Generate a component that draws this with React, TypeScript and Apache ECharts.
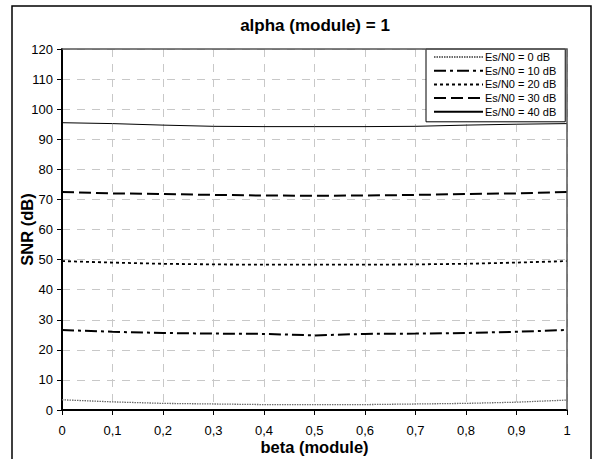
import React, { useEffect, useRef } from "react";
import * as echarts from "echarts";

const betaValues = [0, 0.1, 0.2, 0.3, 0.4, 0.5, 0.6, 0.7, 0.8, 0.9, 1];
const seriesNames = ["Es/N0 = 0 dB", "Es/N0 = 10 dB", "Es/N0 = 20 dB", "Es/N0 = 30 dB", "Es/N0 = 40 dB"];
const snr0 = [3.4, 2.7, 2.2, 2.0, 1.8, 1.8, 1.8, 2.0, 2.2, 2.6, 3.3];
const snr10 = [26.6, 26.0, 25.6, 25.4, 25.3, 24.8, 25.3, 25.4, 25.6, 26.0, 26.6];
const snr20 = [49.5, 49.0, 48.6, 48.4, 48.3, 48.3, 48.3, 48.4, 48.6, 49.0, 49.5];
const snr30 = [72.5, 72.0, 71.8, 71.5, 71.3, 71.2, 71.3, 71.5, 71.8, 72.0, 72.5];
const snr40 = [95.5, 95.2, 94.7, 94.3, 94.2, 94.2, 94.2, 94.3, 94.7, 95.0, 95.2];
const yTicks = { min: 0, max: 120, interval: 10 };
const xTicks = { min: 0, max: 1, interval: 0.1 };

const FONT = "'Liberation Sans', Arial, sans-serif";

export default function App() {
  const ref = useRef<HTMLDivElement>(null);
  useEffect(() => {
    document.body.style.margin = "0";
    const chart = echarts.init(ref.current!, null, { renderer: "svg" });
    const mk = (vals: number[]) => betaValues.map((b, i) => [b, vals[i]]);
    const styles = [
      { color: "#6a6a6a", width: 1.3, type: [1.5, 1] },
      { color: "#000", width: 2, type: [12, 4, 3, 4] },
      { color: "#000", width: 1.8, type: [3, 3] },
      { color: "#000", width: 2, type: [12, 5] },
      { color: "#000", width: 1, type: "solid" },
    ];
    const data = [snr0, snr10, snr20, snr30, snr40];
    chart.setOption({
      animation: false,
      textStyle: { fontFamily: FONT },
      title: {
        text: "alpha (module) = 1",
        left: 310,
        textAlign: "center",
        top: 12,
        textStyle: { fontSize: 17, fontWeight: "bold", color: "#000", fontFamily: FONT },
      },
      grid: { left: 62, right: 33, top: 49, bottom: 49, outerBoundsMode: "none", containLabel: false },
      legend: {
        orient: "vertical",
        left: 426,
        top: 49,
        itemWidth: 49,
        itemHeight: 12,
        itemGap: 1.7,
        padding: [2, 9, 4, 7],
        backgroundColor: "#fff",
        borderColor: "#000",
        borderWidth: 1,
        itemStyle: { opacity: 0 },
        textStyle: { fontSize: 11, lineHeight: 12, color: "#000", fontFamily: FONT, padding: [0, 0, 0, -3] },
        data: seriesNames,
      },
      xAxis: {
        type: "value",
        min: xTicks.min,
        max: xTicks.max,
        interval: xTicks.interval,
        name: "beta (module)",
        nameLocation: "middle",
        nameGap: 28.5,
        nameMoveOverlap: false,
        nameTextStyle: { fontSize: 16.5, fontWeight: "bold", color: "#000", fontFamily: FONT },
        axisLine: { lineStyle: { color: "#000", width: 2 } },
        axisTick: { show: true, length: 5, lineStyle: { color: "#000", width: 1 } },
        axisLabel: {
          fontSize: 13,
          color: "#000",
          margin: 14,
          formatter: (v: number) => String(Math.round(v * 10) / 10).replace(".", ","),
        },
        splitLine: { show: true, lineStyle: { color: "#c8c8c8", type: [8, 7], width: 1 } },
      },
      yAxis: {
        type: "value",
        min: yTicks.min,
        max: yTicks.max,
        interval: yTicks.interval,
        name: "SNR (dB)",
        nameLocation: "middle",
        nameGap: 26.5,
        nameMoveOverlap: false,
        nameTextStyle: { fontSize: 16.5, fontWeight: "bold", color: "#000", fontFamily: FONT },
        axisLine: { show: true, lineStyle: { color: "#000", width: 2 } },
        axisTick: { show: true, length: 5, lineStyle: { color: "#000", width: 1 } },
        axisLabel: { fontSize: 13, color: "#000", margin: 9 },
        splitLine: { show: true, lineStyle: { color: "#c8c8c8", type: [8, 7], width: 1 } },
      },
      graphic: [
        {
          type: "rect",
          shape: { x: 12, y: 6, width: 579, height: 460 },
          style: { fill: "none", stroke: "#000", lineWidth: 1.5 },
          silent: true,
          z: 0,
        },
        {
          type: "polyline",
          shape: { points: [[62, 49], [567, 49], [567, 410]] },
          style: { fill: "none", stroke: "#555", lineWidth: 1.5 },
          silent: true,
          z: 10,
        },
      ],
      series: data.map((d, i) => ({
        name: seriesNames[i],
        type: "line",
        data: mk(d),
        symbol: "none",
        lineStyle: styles[i],
        itemStyle: { color: styles[i].color },
        z: 3,
      })),
    });
    return () => chart.dispose();
  }, []);
  return <div ref={ref} style={{ width: 600, height: 459 }} />;
}
